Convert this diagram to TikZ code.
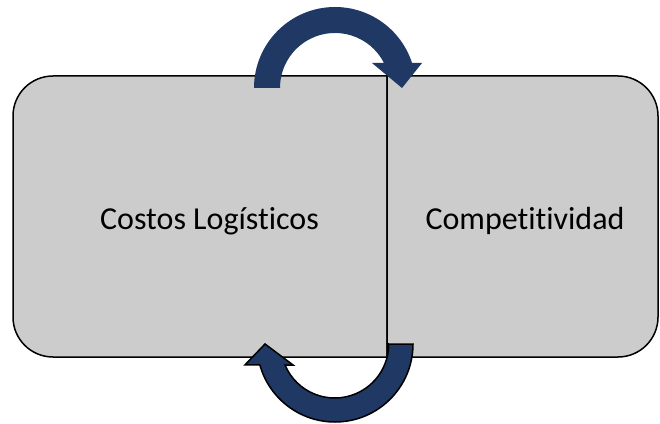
\documentclass[tikz,border=0pt]{standalone}
\usepackage{fontspec}
\setmainfont{Carlito}[Ligatures=NoCommon]

\begin{document}
\begin{tikzpicture}[x=1pt,y=1pt,
    box/.style={fill=black!20,draw=black,line width=1.5pt},
    loop/.style={fill=navy},
    label/.style={font=\fontsize{32}{38}\selectfont}]
      \definecolor{navy}{RGB}{31,56,100}
      \useasboundingbox (0,0) rectangle (660,423);
      \draw[box] (387,66) -- (53,66) arc[start angle=270,end angle=180,radius=40pt] -- (13,307) arc[start angle=180,end angle=90,radius=40pt] -- (387,347) -- cycle;
      \draw[box] (387,66) -- (618,66) arc[start angle=-90,end angle=0,radius=40pt] -- (658,307) arc[start angle=0,end angle=90,radius=40pt] -- (387,347) -- cycle;
      \node[label] (costos) at (209.5,202) {Costos Logísticos};
      \node[label] (compet) at (525,202) {Competitividad};
      \coordinate (top) at (335,335);
      \coordinate (bot) at (335,79);
      \fill[loop] ([xshift=-81pt]top) arc[start angle=180,end angle=18,radius=81pt] -- ++(10,0) -- ([xshift=67pt]top) -- ++(-30,25) -- ++(12,0) arc[start angle=27,end angle=180,radius=55pt] -- cycle;
      \filldraw[loop,draw=black,line width=1.5pt] ([xshift=54pt]bot) -- ([xshift=78pt]bot) arc[start angle=0,end angle=-164.4,radius=78pt] -- ++(-15,0) -- ([xshift=-70pt]bot) -- ++(28,-21) -- ++(-8,0) arc[start angle=-157.1,end angle=0,radius=54pt] -- cycle;
    \end{tikzpicture}
\end{document}
